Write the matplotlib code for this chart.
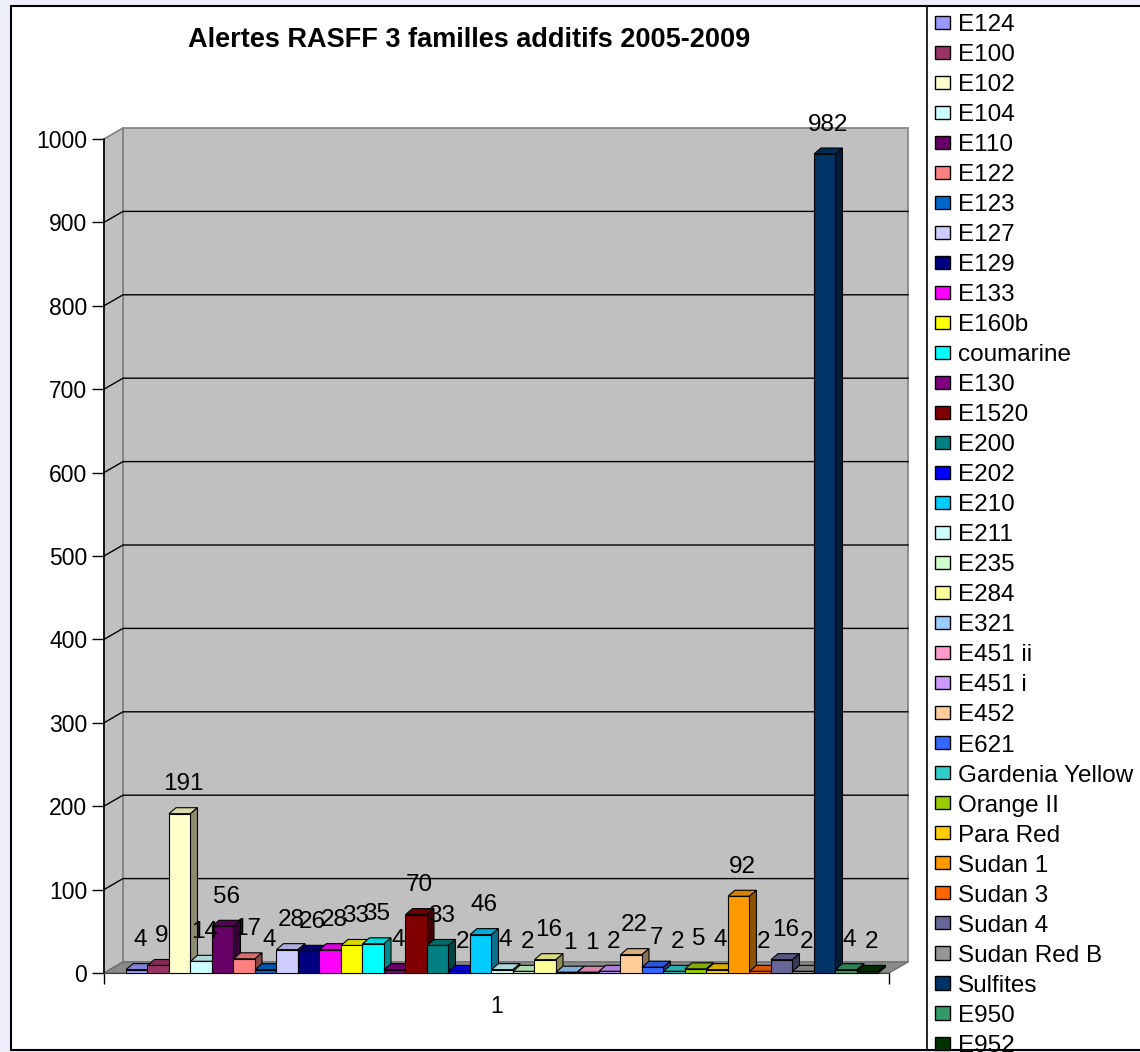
import numpy as np
import matplotlib.pyplot as plt
from matplotlib.patches import Polygon, Rectangle, Patch
from matplotlib.lines import Line2D
from matplotlib import colors as mcolors

plt.rcParams['font.family'] = ['Liberation Sans', 'DejaVu Sans']

# données : alertes RASFF par additif
additifs = ['E124', 'E100', 'E102', 'E104', 'E110', 'E122', 'E123', 'E127', 'E129',
            'E133', 'E160b', 'coumarine', 'E130', 'E1520', 'E200', 'E202', 'E210',
            'E211', 'E235', 'E284', 'E321', 'E451 ii', 'E451 i', 'E452', 'E621',
            'Gardenia Yellow', 'Orange II', 'Para Red', 'Sudan 1', 'Sudan 3',
            'Sudan 4', 'Sudan Red B', 'Sulfites', 'E950', 'E952']
alertes = [4, 9, 191, 14, 56, 17, 4, 28, 26, 28, 33, 35, 4, 70, 33, 2, 46,
           4, 2, 16, 1, 1, 2, 22, 7, 2, 5, 4, 92, 2, 16, 2, 982, 4, 2]
couleurs = ['#9999FF', '#993366', '#FFFFCC', '#CCFFFF', '#660066', '#FF8080',
            '#0066CC', '#CCCCFF', '#000080', '#FF00FF', '#FFFF00', '#00FFFF',
            '#800080', '#800000', '#008080', '#0000FF', '#00CCFF', '#CCFFFF',
            '#CCFFCC', '#FFFF99', '#99CCFF', '#FF99CC', '#CC99FF', '#FFCC99',
            '#3366FF', '#33CCCC', '#99CC00', '#FFCC00', '#FF9900', '#FF6600',
            '#666699', '#969696', '#003366', '#339966', '#003300']
graduations = list(range(0, 1001, 100))
titre = 'Alertes RASFF 3 familles additifs 2005-2009'

W, H = 1140, 1052
fig = plt.figure(figsize=(W / 100, H / 100), dpi=100)
fig.patch.set_facecolor('#EEEEFA')
fig.add_artist(Rectangle((11 / W, 2 / H), 1.0, 1044 / H, transform=fig.transFigure,
                         facecolor='white', edgecolor='black', lw=1.5, zorder=0))
fig.add_artist(Line2D([927 / W] * 2, [2 / H, 1046 / H], transform=fig.transFigure,
                      color='black', lw=1.2))

# plan avant du graphique 3D
ax = fig.add_axes([104 / W, 79 / H, 785 / W, 834 / H])
x0, x1 = -1.023, 35.49
ax.set_xlim(x0, x1)
ax.set_ylim(0, 1000)
ax.patch.set_visible(False)

px_x = 785 / (x1 - x0)   # pixels par unité x
px_y = 834 / 1000        # pixels par unité y
wdx, wdy = 19 / px_x, 11 / px_y   # profondeur des murs
bdx, bdy = 7 / px_x, 6 / px_y     # profondeur des barres

# murs et sol
ax.add_patch(Rectangle((x0 + wdx, wdy), x1 - x0, 1000, facecolor='#C0C0C0',
                       edgecolor='#808080', lw=1.2, clip_on=False, zorder=1))
ax.add_patch(Polygon([(x0, 0), (x0 + wdx, wdy), (x0 + wdx, 1000 + wdy), (x0, 1000)],
                     facecolor='#C0C0C0', edgecolor='#808080', lw=1.2, clip_on=False, zorder=1))
for v in graduations[1:-1]:
    ax.plot([x0, x0 + wdx, x1 + wdx], [v, v + wdy, v + wdy], color='black', lw=1,
            clip_on=False, zorder=1.5)
ax.add_patch(Polygon([(x0, 0), (x1, 0), (x1 + wdx, wdy), (x0 + wdx, wdy)],
                     facecolor='#8a8a8a', edgecolor='#707070', lw=1, clip_on=False, zorder=2))


def teinte(c, f):
    r, g, b = mcolors.to_rgb(c)
    return (r * f, g * f, b * f)


for i, (v, c) in enumerate(zip(alertes, couleurs)):
    z = 3 + i * 0.01
    ax.add_patch(Polygon([(i, v), (i + 1, v), (i + 1 + bdx, v + bdy), (i + bdx, v + bdy)],
                         facecolor=teinte(c, 0.85), edgecolor='black', lw=0.8,
                         clip_on=False, zorder=z))
    ax.add_patch(Polygon([(i + 1, 0), (i + 1 + bdx, bdy), (i + 1 + bdx, v + bdy), (i + 1, v)],
                         facecolor=teinte(c, 0.55), edgecolor='black', lw=0.8,
                         clip_on=False, zorder=z))
    ax.bar(i, v, width=1, align='edge', color=c, edgecolor='black', lw=0.8,
           clip_on=False, zorder=z + 0.001)
    ax.annotate(str(v), (i + 0.5 + bdx / 2, v + bdy), xytext=(0, 9),
                textcoords='offset points', ha='center', va='bottom',
                fontsize=17.5, zorder=10)

ax.set_yticks(graduations)
ax.tick_params(axis='y', direction='out', length=8.5, width=1, pad=3.5, labelsize=16.5)
ax.set_xticks([(x0 + x1) / 2])
ax.set_xticklabels(['1'])
ax.set_xticks([x0, x1], minor=True)
ax.tick_params(axis='x', which='major', length=0, pad=16, labelsize=16.5)
ax.tick_params(axis='x', which='minor', direction='out', length=8, width=1)
for s in ['top', 'right']:
    ax.spines[s].set_visible(False)
ax.spines['left'].set_linewidth(1.2)
ax.spines['bottom'].set_color('#404040')

fig.text(469 / W, 1 - 40 / H, titre, ha='center', va='center', fontsize=19.5,
         fontweight='bold')

poignees = [Patch(facecolor=c, edgecolor='black', lw=1) for c in couleurs]
fig.legend(poignees, additifs, loc='upper left', bbox_to_anchor=(935 / W, 1 - 14 / H),
           frameon=False, fontsize=17.5, handlelength=0.6, handleheight=0.45,
           handletextpad=0.35, labelspacing=0.33, borderpad=0, borderaxespad=0)

fig.savefig('out.png', dpi=100)
